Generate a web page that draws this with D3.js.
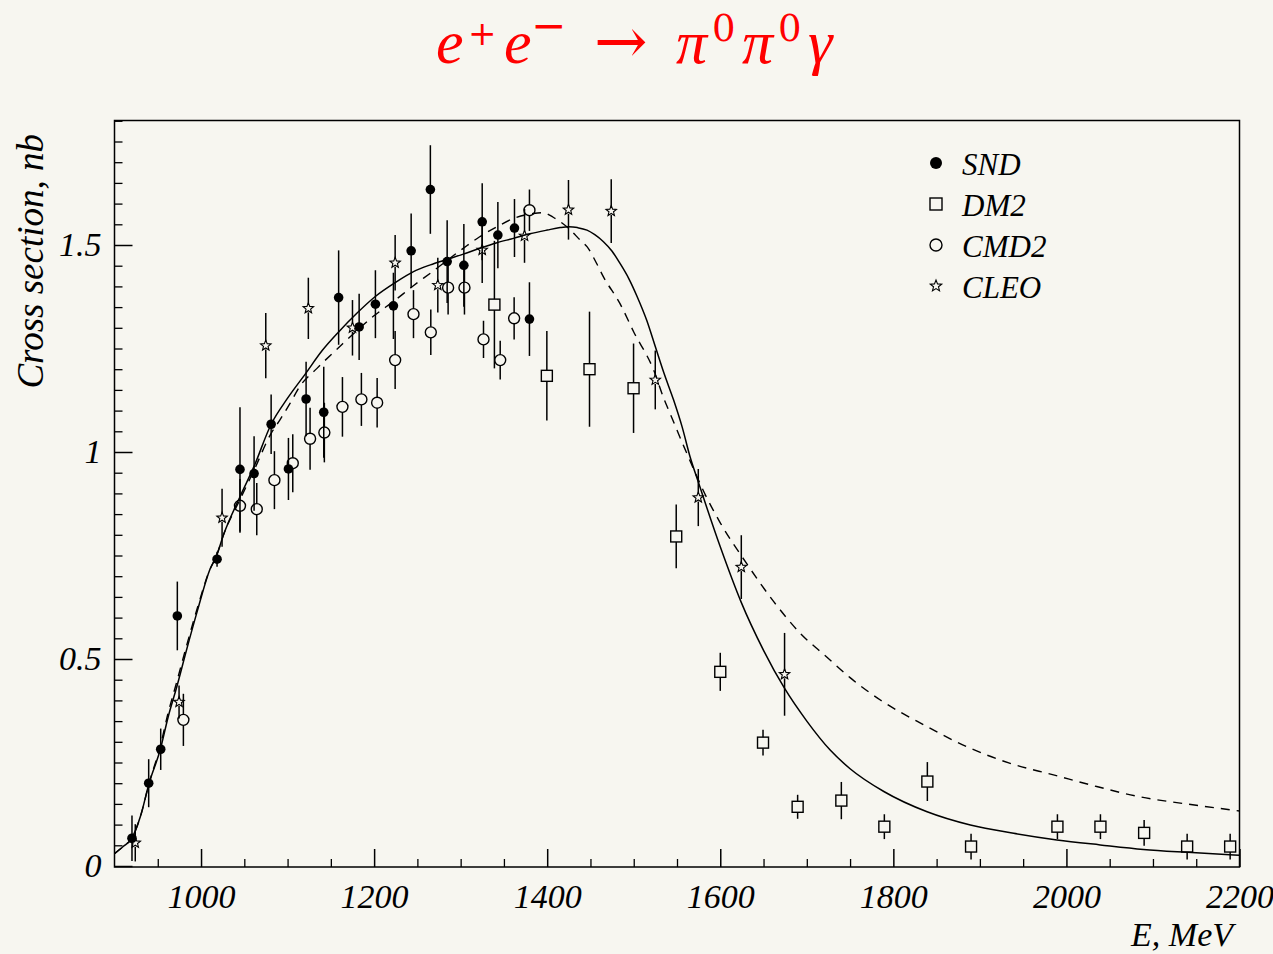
<!DOCTYPE html>
<html>
<head>
<meta charset="utf-8">
<script src="https://cdn.jsdelivr.net/npm/d3@7/dist/d3.min.js"></script>
<style>
  html, body { margin: 0; padding: 0; background: #f7f6f0; }
  svg { display: block; }
  text { font-family: "Liberation Serif", "Times New Roman", serif; }
</style>
</head>
<body>
<svg id="chart" width="1273" height="954"></svg>
<script>
// e+e- -> pi0 pi0 gamma cross section: measurements and two model curves

// SND: energy (MeV), cross section (nb), error (nb)
const sndE   = [920.2, 939.5, 953.4, 972.6, 1018.5, 1045, 1061.3, 1081, 1101, 1121.4, 1141.8, 1159, 1182.7, 1201.5, 1222.3, 1242.8, 1265, 1284.4, 1303.7, 1324.9, 1343, 1362.2, 1379.5];
const sndSig = [0.067, 0.20, 0.282, 0.604, 0.741, 0.958, 0.948, 1.067, 0.959, 1.128, 1.096, 1.373, 1.302, 1.357, 1.353, 1.486, 1.634, 1.46, 1.451, 1.556, 1.524, 1.541, 1.321];
const sndErr = [0.055, 0.058, 0.05, 0.083, 0.018, 0.15, 0.09, 0.072, 0.075, 0.09, 0.11, 0.114, 0.08, 0.082, 0.08, 0.09, 0.107, 0.1, 0.1, 0.093, 0.08, 0.07, 0.089];

// DM2
const dm2E   = [1339, 1399.6, 1448.9, 1499.8, 1549.1, 1600, 1649.4, 1689.4, 1739.9, 1789.6, 1839.3, 1889.8, 1989.6, 2039.3, 2089.8, 2139.5, 2189.2];
const dm2Sig = [1.356, 1.184, 1.2, 1.154, 0.796, 0.469, 0.298, 0.143, 0.158, 0.095, 0.204, 0.047, 0.095, 0.095, 0.080, 0.047, 0.047];
const dm2Err = [0.154, 0.108, 0.139, 0.108, 0.077, 0.046, 0.031, 0.029, 0.045, 0.03, 0.047, 0.031, 0.03, 0.03, 0.031, 0.031, 0.031];

// CMD2
const cmd2E   = [979.6, 1045, 1064.4, 1084.8, 1106, 1126, 1142.5, 1163.4, 1185.3, 1203.5, 1224.3, 1245.5, 1265.5, 1285.5, 1304.4, 1326.4, 1345.7, 1361.8, 1379.5];
const cmd2Sig = [0.353, 0.87, 0.862, 0.932, 0.973, 1.032, 1.047, 1.109, 1.127, 1.119, 1.222, 1.333, 1.289, 1.397, 1.397, 1.272, 1.222, 1.323, 1.584];
const cmd2Err = [0.063, 0.065, 0.063, 0.07, 0.07, 0.075, 0.072, 0.072, 0.064, 0.06, 0.07, 0.058, 0.055, 0.065, 0.065, 0.045, 0.047, 0.051, 0.05];

// CLEO
const cleoE   = [924, 974.6, 1024.3, 1074.8, 1124, 1175, 1224.3, 1273.6, 1324.9, 1373.8, 1424.6, 1474, 1524.9, 1574.6, 1624.3, 1674.3];
const cleoSig = [0.056, 0.396, 0.841, 1.257, 1.347, 1.30, 1.457, 1.403, 1.488, 1.522, 1.585, 1.582, 1.174, 0.890, 0.722, 0.463];
const cleoErr = [0.045, 0.04, 0.07, 0.079, 0.074, 0.067, 0.067, 0.066, 0.08, 0.065, 0.072, 0.077, 0.071, 0.069, 0.077, 0.1];

// Model curve (solid)
const fitE   = [900, 910, 920, 930, 940, 953, 962, 972, 983, 996, 1010, 1018, 1026, 1045, 1061, 1081, 1100, 1121, 1140, 1159, 1180, 1201, 1225, 1245, 1265, 1284, 1303, 1322, 1341, 1361, 1380, 1400, 1415, 1425, 1435, 1446, 1455, 1465, 1475, 1484, 1494, 1504, 1515, 1525, 1535, 1546, 1556, 1565, 1575, 1600, 1624, 1650, 1674, 1700, 1727, 1750, 1789, 1839, 1889, 1939, 1989, 2039, 2089, 2140, 2200];
const fitSig = [0.030, 0.047, 0.067, 0.12, 0.20, 0.282, 0.36, 0.433, 0.52, 0.618, 0.715, 0.75, 0.80, 0.892, 0.964, 1.067, 1.13, 1.19, 1.245, 1.29, 1.335, 1.375, 1.41, 1.435, 1.452, 1.465, 1.478, 1.492, 1.505, 1.516, 1.527, 1.536, 1.542, 1.544, 1.542, 1.536, 1.525, 1.508, 1.485, 1.456, 1.42, 1.375, 1.318, 1.254, 1.19, 1.126, 1.06, 0.989, 0.925, 0.771, 0.638, 0.521, 0.43, 0.35, 0.28, 0.235, 0.18, 0.131, 0.099, 0.079, 0.063, 0.051, 0.040, 0.033, 0.026];

// Alternative model curve (dashed)
const altE   = [900, 910, 920, 930, 940, 953, 962, 972, 983, 996, 1010, 1018, 1026, 1045, 1061, 1081, 1091, 1103, 1114, 1134, 1164, 1201, 1222, 1245, 1265, 1303, 1322, 1342, 1361, 1384, 1395, 1407, 1427, 1438, 1446, 1457, 1465, 1484, 1500, 1523, 1535, 1542, 1558, 1585, 1600, 1631, 1662, 1692, 1723, 1750, 1785, 1835, 1885, 1935, 1985, 2035, 2085, 2135, 2200];
const altSig = [0.030, 0.047, 0.067, 0.12, 0.20, 0.29, 0.37, 0.445, 0.53, 0.625, 0.715, 0.75, 0.80, 0.885, 0.955, 1.045, 1.077, 1.118, 1.158, 1.202, 1.262, 1.331, 1.363, 1.401, 1.432, 1.492, 1.52, 1.544, 1.564, 1.576, 1.578, 1.567, 1.536, 1.512, 1.496, 1.456, 1.423, 1.359, 1.29, 1.198, 1.128, 1.093, 1.013, 0.887, 0.829, 0.729, 0.638, 0.563, 0.505, 0.455, 0.401, 0.341, 0.288, 0.248, 0.22, 0.192, 0.167, 0.151, 0.133];

// Axis ticks and labels
const xMajorTicks = [1000, 1200, 1400, 1600, 1800, 2000, 2200];
const xMinorStep = 50;
const yMajorTicks = [0, 0.5, 1, 1.5];
const yMinorStep = 0.05;
const legendLabels = ["SND", "DM2", "CMD2", "CLEO"];

const svg = d3.select("#chart");
const W = 1273, H = 954;
const bg = "#f7f6f0";
svg.append("rect").attr("width", W).attr("height", H).attr("fill", bg);

const frameL = 114.5, frameR = 1239.5, frameT = 120.5, frameB = 867;
const x = d3.scaleLinear().domain([900, 2200]).range([frameL, frameR]);
const y = d3.scaleLinear().domain([0, 1.8]).range([866, 120.8]);

// frame
svg.append("rect")
  .attr("x", frameL).attr("y", frameT)
  .attr("width", frameR - frameL).attr("height", frameB - frameT)
  .attr("fill", "none").attr("stroke", "#000").attr("stroke-width", 1.5);

// x axis: minor then major ticks pointing inward
const xMinor = d3.range(900, 2200 + 1, xMinorStep).filter(v => !xMajorTicks.includes(v) && v > 900);
svg.append("g").attr("transform", `translate(0,${frameB})`)
  .call(d3.axisBottom(x).tickValues(xMinor).tickSizeInner(-8).tickSizeOuter(0).tickFormat(""))
  .call(g => g.select(".domain").remove())
  .call(g => g.selectAll("line").attr("stroke-width", 1.3));
const gx = svg.append("g").attr("transform", `translate(0,${frameB})`)
  .call(d3.axisBottom(x).tickValues(xMajorTicks).tickSizeInner(-18).tickSizeOuter(0).tickPadding(17).tickFormat(d3.format("d")))
  .call(g => g.select(".domain").remove());
gx.selectAll("line").attr("stroke-width", 1.5);
gx.selectAll("text").attr("font-size", 34).attr("font-style", "italic")
  .attr("font-family", "Liberation Serif").attr("fill", "#000");

// y axis
const yMinor = d3.range(0, 1.8 + 1e-9, yMinorStep).map(v => +v.toFixed(2)).filter(v => !yMajorTicks.includes(v));
svg.append("g").attr("transform", `translate(${frameL},0)`)
  .call(d3.axisLeft(y).tickValues(yMinor).tickSizeInner(-8).tickSizeOuter(0).tickFormat(""))
  .call(g => g.select(".domain").remove())
  .call(g => g.selectAll("line").attr("stroke-width", 1.3));
const gy = svg.append("g").attr("transform", `translate(${frameL},0)`)
  .call(d3.axisLeft(y).tickValues(yMajorTicks).tickSizeInner(-18).tickSizeOuter(0).tickPadding(13).tickFormat(d => String(d)))
  .call(g => g.select(".domain").remove());
gy.selectAll("line").attr("stroke-width", 1.5);
gy.selectAll("text").attr("font-size", 34).attr("font-style", "italic")
  .attr("font-family", "Liberation Serif").attr("fill", "#000");

// axis titles
svg.append("text").attr("x", 1233).attr("y", 946)
  .attr("text-anchor", "end").attr("font-size", 34).attr("font-style", "italic")
  .text("E, MeV");
svg.append("text")
  .attr("transform", "translate(43,134) rotate(-90)")
  .attr("text-anchor", "end").attr("font-size", 37).attr("font-style", "italic")
  .text("Cross section, nb");

// title: each piece placed on its own, superscripts raised
const titleParts = [
  { t: "e",      x: 436, dy: 0,   size: 62, italic: true,  font: "Liberation Serif" },
  { t: "+",      x: 468, dy: -18, size: 34, italic: false, font: "DejaVu Serif" },
  { t: "e",      x: 504, dy: 0,   size: 62, italic: true,  font: "Liberation Serif" },
  { t: "\u2212", x: 531, dy: -23, size: 42, italic: false, font: "DejaVu Serif" },
  { t: "\u2192", x: 594, dy: 0,   size: 64, italic: false, font: "DejaVu Serif" },
  { t: "\u03C0", x: 676, dy: 0,   size: 62, italic: true,  font: "Liberation Serif" },
  { t: "0",      x: 712, dy: -22, size: 37, italic: false, font: "DejaVu Serif" },
  { t: "\u03C0", x: 742, dy: 0,   size: 62, italic: true,  font: "Liberation Serif" },
  { t: "0",      x: 778, dy: -22, size: 37, italic: false, font: "DejaVu Serif" },
  { t: "\u03B3", x: 808, dy: 0,   size: 62, italic: true,  font: "Liberation Serif" }
];
const title = svg.append("text").attr("fill", "#ff0000");
titleParts.forEach(p => {
  title.append("tspan")
    .attr("x", p.x).attr("y", 63 + p.dy)
    .attr("font-size", p.size)
    .attr("font-family", p.font)
    .attr("font-style", p.italic ? "italic" : "normal")
    .text(p.t);
});

// curves
const plot = svg.append("g");
const line = d3.line().x(d => x(d[0])).y(d => y(d[1])).curve(d3.curveMonotoneX);
plot.append("path").datum(d3.zip(altE, altSig))
  .attr("d", line).attr("fill", "none").attr("stroke", "#000")
  .attr("stroke-width", 1.4).attr("stroke-dasharray", "9,7");
plot.append("path").datum(d3.zip(fitE, fitSig))
  .attr("d", line).attr("fill", "none").attr("stroke", "#000")
  .attr("stroke-width", 1.5);

// marker shapes
function starPath(R, r) {
  const p = [];
  for (let i = 0; i < 10; i++) {
    const a = -Math.PI / 2 + i * Math.PI / 5;
    const rr = i % 2 === 0 ? R : r;
    p.push([rr * Math.cos(a), rr * Math.sin(a)]);
  }
  return "M" + p.map(q => q[0].toFixed(2) + "," + q[1].toFixed(2)).join("L") + "Z";
}

function drawSeries(E, S, Er, kind) {
  const data = d3.zip(E, S, Er);
  const g = plot.append("g");
  const half = kind === "snd" ? 0 : (kind === "cleo" ? 4 : 5.5);
  // error bars, split around hollow markers
  data.forEach(([e, s, er]) => {
    const cx = x(e), cy = y(s);
    g.append("line").attr("x1", cx).attr("x2", cx)
      .attr("y1", y(s + er)).attr("y2", cy - half)
      .attr("stroke", "#000").attr("stroke-width", 1.5);
    g.append("line").attr("x1", cx).attr("x2", cx)
      .attr("y1", cy + half).attr("y2", y(Math.max(0, s - er)))
      .attr("stroke", "#000").attr("stroke-width", 1.5);
  });
  data.forEach(([e, s]) => {
    const cx = x(e), cy = y(s);
    if (kind === "snd") {
      g.append("circle").attr("cx", cx).attr("cy", cy).attr("r", 4.8).attr("fill", "#000");
    } else if (kind === "dm2") {
      g.append("rect").attr("x", cx - 5.5).attr("y", cy - 5.5).attr("width", 11).attr("height", 11)
        .attr("fill", "none").attr("stroke", "#000").attr("stroke-width", 1.4);
    } else if (kind === "cmd2") {
      g.append("circle").attr("cx", cx).attr("cy", cy).attr("r", 5.5)
        .attr("fill", "none").attr("stroke", "#000").attr("stroke-width", 1.4);
    } else {
      g.append("path").attr("transform", `translate(${cx},${cy})`).attr("d", starPath(5.5, 2.4))
        .attr("fill", "none").attr("stroke", "#000").attr("stroke-width", 1.1);
    }
  });
}
drawSeries(dm2E, dm2Sig, dm2Err, "dm2");
drawSeries(cmd2E, cmd2Sig, cmd2Err, "cmd2");
drawSeries(sndE, sndSig, sndErr, "snd");
drawSeries(cleoE, cleoSig, cleoErr, "cleo");

// legend
const legend = svg.append("g");
const rowY = [163, 204, 245, 286];
legendLabels.forEach((lab, i) => {
  const cy = rowY[i], cx = 936;
  if (i === 0) legend.append("circle").attr("cx", cx).attr("cy", cy).attr("r", 6).attr("fill", "#000");
  if (i === 1) legend.append("rect").attr("x", cx - 6).attr("y", cy - 6).attr("width", 12).attr("height", 12)
    .attr("fill", "none").attr("stroke", "#000").attr("stroke-width", 1.4);
  if (i === 2) legend.append("circle").attr("cx", cx).attr("cy", cy).attr("r", 6)
    .attr("fill", "none").attr("stroke", "#000").attr("stroke-width", 1.4);
  if (i === 3) legend.append("path").attr("transform", `translate(${cx},${cy})`).attr("d", starPath(6, 2.6))
    .attr("fill", "none").attr("stroke", "#000").attr("stroke-width", 1.1);
  legend.append("text").attr("x", 962).attr("y", cy + 12)
    .attr("font-size", 31).attr("font-style", "italic").text(lab);
});
</script>
</body>
</html>
